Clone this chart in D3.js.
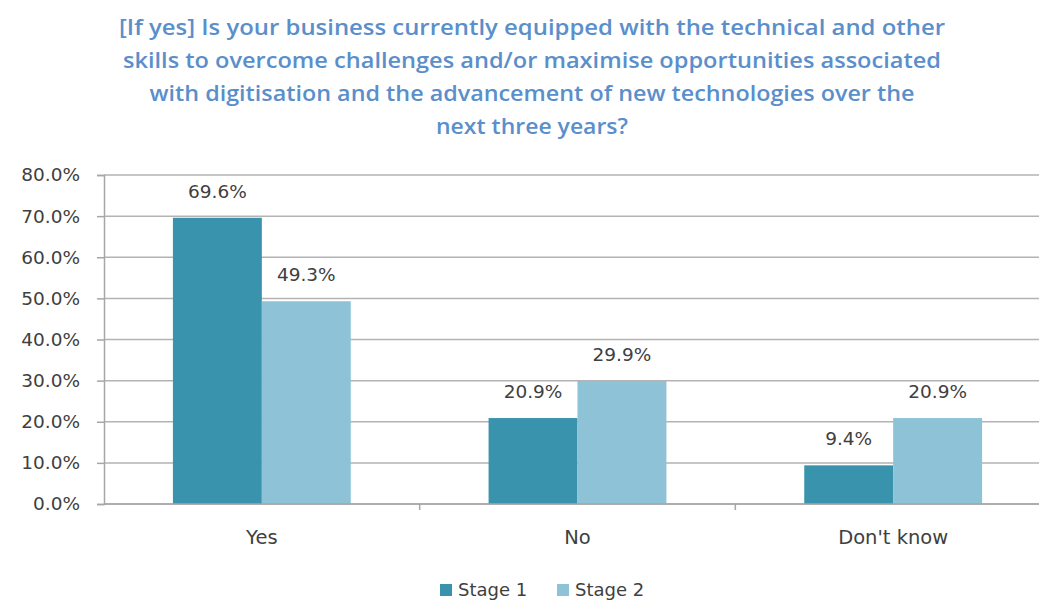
<!DOCTYPE html>
<html>
<head>
<meta charset="utf-8">
<script src="https://cdn.jsdelivr.net/npm/d3@7/dist/d3.min.js"></script>
<style>
  html, body { margin: 0; padding: 0; background: #fff; }
  svg { display: block; }
</style>
</head>
<body>
<svg id="chart" width="1039" height="603"></svg>
<script>
// Survey answers, two survey waves
const categories = ["Yes", "No", "Don't know"];
const seriesNames = ["Stage 1", "Stage 2"];
const stage1 = [69.6, 20.9, 9.4];
const stage2 = [49.3, 29.9, 20.9];
const yTicks = [0, 10, 20, 30, 40, 50, 60, 70, 80];
const titleLines = [
  "[If yes] Is your business currently equipped with the technical and other",
  "skills to overcome challenges and/or maximise opportunities associated",
  "with digitisation and the advancement of new technologies over the",
  "next three years?"
];

const colors = { "Stage 1": "#3a93ad", "Stage 2": "#8dc2d7" };
const titleFont = "'Open Sans', 'Noto Sans', sans-serif";
const bodyFont = "'DejaVu Sans', sans-serif";

const svg = d3.select("#chart");
const W = 1039;

// Title
const titleWidths = [826, 818, 765, 192];
svg.append("g").selectAll("text")
  .data(titleLines)
  .join("text")
  .attr("x", 532)
  .attr("y", (d, i) => 35 + i * 33)
  .attr("text-anchor", "middle")
  .attr("font-family", titleFont)
  .attr("font-size", 21)
  .attr("font-weight", 600)
  .attr("fill", "#5a8fcb")
  .attr("textLength", (d, i) => titleWidths[i])
  .attr("lengthAdjust", "spacingAndGlyphs")
  .text(d => d);

// Scales
const x0 = d3.scaleBand().domain(categories).range([104, 1051]).paddingInner(0).paddingOuter(0);
const x1 = d3.scaleBand().domain(seriesNames).range([0, x0.bandwidth()]).paddingInner(0).paddingOuter(0.775);
const y = d3.scaleLinear().domain([0, 80]).range([504, 175]);

// Gridlines
svg.append("g").selectAll("line")
  .data(yTicks)
  .join("line")
  .attr("x1", 104).attr("x2", W)
  .attr("y1", d => y(d)).attr("y2", d => y(d))
  .attr("stroke", "#b3b3b3").attr("stroke-width", 1.5);

// Y axis
const yAxis = d3.axisLeft(y).tickValues(yTicks).tickSize(7).tickPadding(17)
  .tickFormat(d => d.toFixed(1) + "%");
const gy = svg.append("g").attr("transform", "translate(104,0)").call(yAxis);
gy.select(".domain").attr("stroke", "#a6a6a6").attr("stroke-width", 1.5);
gy.selectAll(".tick line").attr("stroke", "#a6a6a6").attr("stroke-width", 1.5);
gy.selectAll(".tick text")
  .attr("font-family", bodyFont).attr("font-size", 18.5).attr("fill", "#404040");

// Bars
const rows = categories.map((c, i) => ({ cat: c, vals: [
  { name: "Stage 1", v: stage1[i] },
  { name: "Stage 2", v: stage2[i] }
]}));

const groups = svg.append("g").selectAll("g")
  .data(rows)
  .join("g")
  .attr("transform", d => `translate(${x0(d.cat)},0)`);

groups.selectAll("rect")
  .data(d => d.vals)
  .join("rect")
  .attr("x", d => x1(d.name))
  .attr("width", x1.bandwidth())
  .attr("y", d => y(d.v))
  .attr("height", d => y(0) - y(d.v))
  .attr("fill", d => colors[d.name]);

groups.selectAll("text")
  .data(d => d.vals)
  .join("text")
  .attr("x", d => x1(d.name) + x1.bandwidth() / 2)
  .attr("y", d => y(d.v) - 20)
  .attr("text-anchor", "middle")
  .attr("font-family", bodyFont).attr("font-size", 18.5).attr("fill", "#404040")
  .text(d => d.v.toFixed(1) + "%");

// X axis
const gx = svg.append("g").attr("transform", "translate(0,504)");
gx.append("line").attr("x1", 104).attr("x2", W).attr("y1", 0).attr("y2", 0)
  .attr("stroke", "#a6a6a6").attr("stroke-width", 1.5);
gx.selectAll("line.tk")
  .data(categories.slice(1))
  .join("line").attr("class", "tk")
  .attr("x1", d => x0(d)).attr("x2", d => x0(d))
  .attr("y1", 0).attr("y2", 6)
  .attr("stroke", "#a6a6a6").attr("stroke-width", 1.5);
gx.selectAll("text")
  .data(categories)
  .join("text")
  .attr("x", d => x0(d) + x0.bandwidth() / 2)
  .attr("y", 40)
  .attr("text-anchor", "middle")
  .attr("font-family", bodyFont).attr("font-size", 19.5).attr("fill", "#404040")
  .text(d => d);

// Legend
const legend = svg.append("g");
const legendX = [440, 557];
seriesNames.forEach((s, i) => {
  legend.append("rect")
    .attr("x", legendX[i]).attr("y", 584)
    .attr("width", 12).attr("height", 12)
    .attr("fill", colors[s]);
  legend.append("text")
    .attr("x", legendX[i] + 18).attr("y", 596)
    .attr("font-family", bodyFont).attr("font-size", 18).attr("fill", "#404040")
    .text(s);
});
</script>
</body>
</html>
